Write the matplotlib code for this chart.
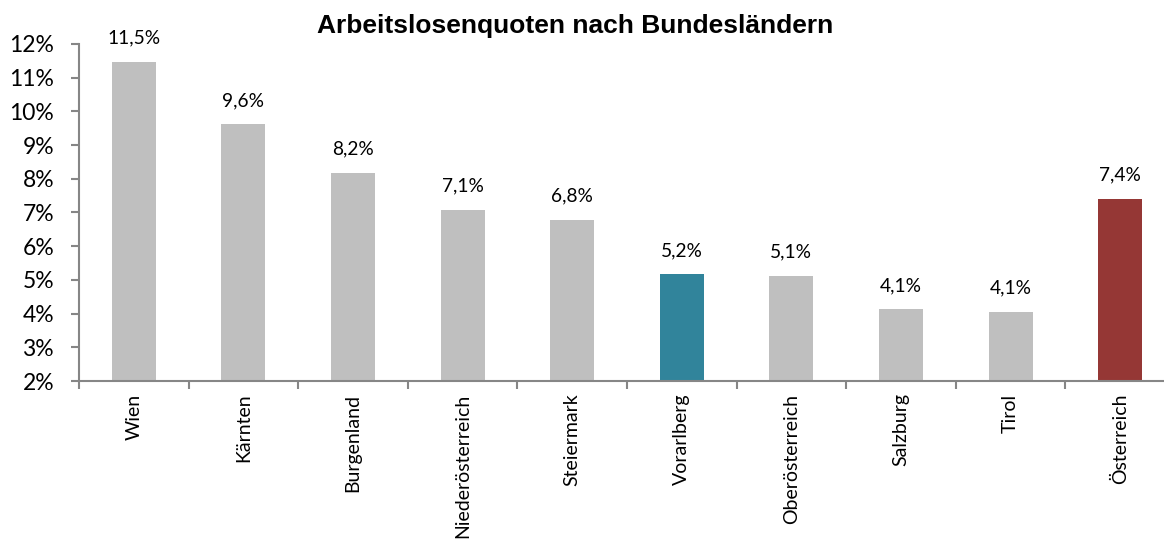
import matplotlib
matplotlib.use("Agg")
import matplotlib.pyplot as plt
from matplotlib.ticker import FuncFormatter

categories = ["Wien", "Kärnten", "Burgenland", "Niederösterreich", "Steiermark",
              "Vorarlberg", "Oberösterreich", "Salzburg", "Tirol", "Österreich"]
values = [11.47, 9.62, 8.17, 7.07, 6.78, 5.17, 5.12, 4.13, 4.06, 7.40]
labels = ["11,5%", "9,6%", "8,2%", "7,1%", "6,8%", "5,2%", "5,1%", "4,1%", "4,1%", "7,4%"]
colors = ["#BFBFBF"] * 5 + ["#31849B"] + ["#BFBFBF"] * 3 + ["#953735"]
yticks = list(range(2, 13))

W, H = 1164, 539
fig = plt.figure(figsize=(W / 100, H / 100), dpi=100)
ax = fig.add_axes([79 / W, 1 - 381 / H, 1096 / W, (381 - 44) / H])

x = list(range(len(categories)))
ax.bar(x, [v - 2 for v in values], bottom=2, width=0.4, color=colors, zorder=2)
for xi, v, lab in zip(x, values, labels):
    ax.annotate(lab, (xi, v), xytext=(0, 11), textcoords="offset points",
                ha="center", va="bottom", fontsize=13.8, family="Lato", color="#000000")

ax.set_xlim(-0.5, len(categories) - 0.5)
ax.set_ylim(2, 12)
ax.set_yticks(yticks)
ax.yaxis.set_major_formatter(FuncFormatter(lambda v, p: f"{int(v)}%"))
ax.set_xticks(x)
ax.set_xticklabels(categories, rotation=90, fontsize=14, family="Lato")
ax.set_xticks([i - 0.5 for i in range(len(categories) + 1)], minor=True)
ax.tick_params(axis="x", which="major", length=0, pad=9)
ax.tick_params(axis="x", which="minor", length=6, color="#868686", width=1.5, direction="out")
ax.tick_params(axis="y", length=6, color="#868686", width=1.5, direction="out",
               labelsize=16.5, pad=12)
for lab in ax.get_yticklabels():
    lab.set_family("Lato")

for s in ["top", "right"]:
    ax.spines[s].set_visible(False)
for s in ["left", "bottom"]:
    ax.spines[s].set_color("#868686")
    ax.spines[s].set_linewidth(1.5)

fig.text(575 / W, 1 - 33 / H, "Arbeitslosenquoten nach Bundesländern", ha="center", va="baseline",
         fontsize=19, fontweight="bold", family="Liberation Sans")

fig.savefig("out.png", dpi=100)
